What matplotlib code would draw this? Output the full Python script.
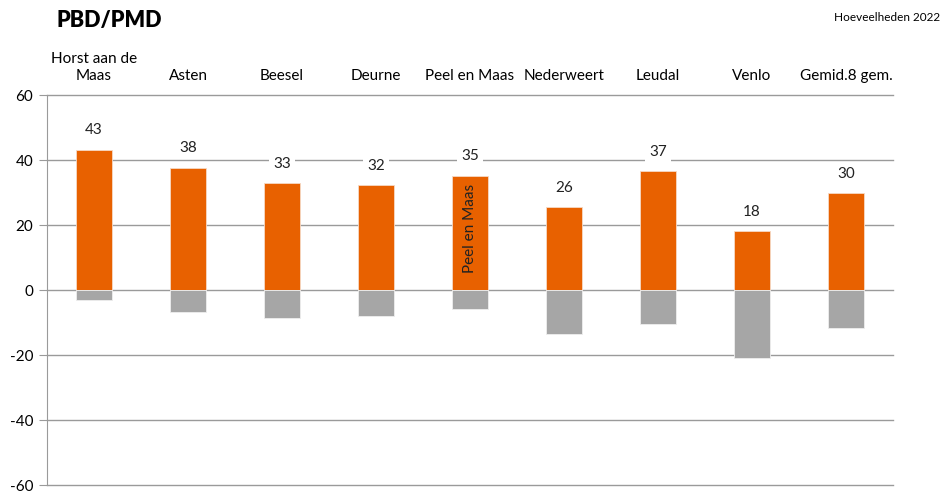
import matplotlib.pyplot as plt
import numpy as np

plt.rcParams['font.family'] = ['Lato', 'DejaVu Sans']
plt.rcParams['axes.unicode_minus'] = False

gemeenten = ['Horst aan de\nMaas', 'Asten', 'Beesel', 'Deurne', 'Peel en Maas',
             'Nederweert', 'Leudal', 'Venlo', 'Gemid.8 gem.']
pmd = [43.2, 37.6, 32.9, 32.2, 35.1, 25.5, 36.6, 18.1, 29.8]
pmd_labels = ['43', '38', '33', '32', '35', '26', '37', '18', '30']
restafval_pmd = [-3.1, -6.7, -8.5, -7.9, -5.8, -13.6, -10.6, -21.0, -11.8]

oranje = '#E86100'
grijs = '#A6A6A6'
lijn = '#9A9A9A'

fig = plt.figure(figsize=(9.42, 4.93), dpi=100)
ax = fig.add_axes([0.0499, 0.0162, 0.898, 0.791])

x = np.arange(len(gemeenten))
ax.bar(x, pmd, width=0.38, color=oranje, edgecolor='#f6d9c5', linewidth=0.6, zorder=3)
ax.bar(x, restafval_pmd, width=0.38, color=grijs, edgecolor='#eeeeee', linewidth=0.6, zorder=3)

for xi, v, lab in zip(x, pmd, pmd_labels):
    ax.text(xi, v + 6, lab, ha='center', va='center', fontsize=11, color='#222222',
            zorder=4, bbox=dict(facecolor='white', edgecolor='none', pad=3))

# naam in de balk van Peel en Maas
ax.text(4, 19, 'Peel en Maas', rotation=90, ha='center', va='center',
        fontsize=11, color='#222222', zorder=4)

ax.set_xlim(-0.5, len(gemeenten) - 0.5)
ax.set_ylim(-60, 60)
ax.set_yticks([-60, -40, -20, 0, 20, 40, 60])
ax.yaxis.grid(True, color=lijn, linewidth=1, zorder=0)
ax.set_axisbelow(True)
for gl in ax.get_ygridlines():
    gl.set_clip_on(False)

ax.xaxis.set_ticks_position('top')
ax.set_xticks(x)
ax.set_xticklabels(gemeenten, fontsize=11)
ax.tick_params(axis='x', length=0, pad=9)
ax.tick_params(axis='y', length=6, color=lijn, labelsize=11, pad=4)

for side in ['top', 'right', 'bottom']:
    ax.spines[side].set_visible(False)
ax.spines['left'].set_color(lijn)

fig.text(0.060, 0.958, 'PBD/PMD', fontsize=15.5, fontweight='heavy', va='center')
fig.text(0.998, 0.965, 'Hoeveelheden 2022', fontsize=8.5, ha='right', va='center')

plt.savefig('out.png', dpi=100)
